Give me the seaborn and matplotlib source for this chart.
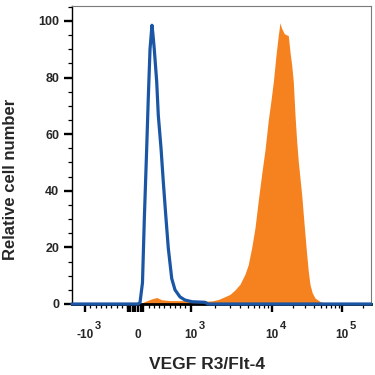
import numpy as np
import seaborn as sns
import matplotlib.pyplot as plt
from matplotlib.ticker import MultipleLocator, FixedLocator

# isotype control histogram (blue outline)
ctrl_x = [-1490, 0, 38, 85, 120, 165, 195, 228, 265, 285, 309, 355, 385, 437, 480,
          526, 575, 640, 702, 797, 892, 1040, 1500, 1630, 263000]
ctrl_y = [0, 0, 0.5, 7.5, 30, 55, 72.6, 90, 98.5, 95, 90, 78.5, 66.7, 55, 43.2,
          31.5, 19.7, 9, 5, 2.5, 1.4, 0.8, 0.6, 0, 0]

# VEGF R3/Flt-4 stained cells (filled orange)
stain_x = [38, 133, 260, 355, 450, 607, 892, 1130, 1500, 1830, 2185, 2640, 3040, 3510,
           4040, 4660, 5110, 5630, 6180, 6790, 7470, 8200, 9000, 9720, 10440, 11410,
           12310, 13020, 13690, 15010, 17130, 18130, 19170, 20210, 21380, 22620, 23840,
           25210, 26680, 28130, 29750, 31470, 33170, 35100, 37860, 41400, 48840, 57600, 63600]
stain_y = [0, 0.9, 1.8, 2.3, 1.5, 1.2, 1.2, 1.1, 1.0, 1.1, 1.6, 2.6, 3.4, 5.0,
           7.0, 10.6, 14, 20, 27, 36.8, 46, 54.5, 65, 72, 78.5, 88,
           95, 99.4, 97.5, 95.5, 94.8, 89, 84.4, 78.5, 66.7, 57.3, 50.3,
           44.4, 38.5, 31.5, 24.4, 17.4, 11.5, 6.8, 3.9, 2.1, 0.9, 0.3, 0]

tick_pos = [-1000, 0, 1000, 10000, 100000]
tick_base = ['-10', '0', '10', '10', '10']
tick_exp = ['3', '', '3', '4', '5']

BLUE = '#1B56A5'
ORANGE = '#F5821F'

# biexponential-like display scale (linear near zero, log above 10^3)
hs = [-20, -1, 0, 1, 2, 3, 20]
ps = [85 - 19 * 75, 85, 138, 190.7, 272, 341.7, 341.7 + 17 * 69.7]


def fwd(x):
    x = np.asarray(x, dtype=float)
    a = np.abs(x)
    h = np.where(a <= 1000, x / 1000,
                 np.sign(x) * (1 + np.log10(np.maximum(a, 1000) / 1000)))
    return np.interp(h, hs, ps)


def inv(p):
    h = np.interp(np.asarray(p, dtype=float), ps, hs)
    return np.where(np.abs(h) <= 1, h * 1000,
                    np.sign(h) * 1000 * 10 ** (np.abs(h) - 1))


sns.set_style('ticks')
plt.rcParams['font.family'] = ['Liberation Sans', 'DejaVu Sans']
plt.rcParams['font.weight'] = 'bold'

fig = plt.figure(figsize=(3.75, 3.75), dpi=100)
ax = fig.add_axes([72 / 375, 71 / 375, 299 / 375, 298 / 375])
ax.set_xscale('function', functions=(fwd, inv))

ax.fill_between(stain_x, stain_y, 0, color=ORANGE, lw=0, zorder=2)
sns.lineplot(x=ctrl_x, y=ctrl_y, color=BLUE, lw=2.3, ax=ax, zorder=4, clip_on=False)

ax.set_xlim(-1490, 263000)
ax.set_ylim(0, 105.3)

# x ticks: labelled decades plus a dense cluster around zero
blob = [-190, -150, -100, -50, 50, 100]
ax.set_xticks(tick_pos + blob, labels=tick_base + [''] * len(blob))
minor = [-900, -800, -700, -600, -500, -400, -300, -200,
         200, 300, 400, 500, 600, 700, 800, 900]
minor += [m * 10 ** k for k in (3, 4) for m in range(2, 10)] + [200000]
ax.xaxis.set_minor_locator(FixedLocator(minor))
for xp, e in zip(tick_pos, tick_exp):
    if e:
        off = 7.4 if xp < 0 else 5.8
        ax.annotate(e, xy=(xp, 0), xycoords=('data', 'axes fraction'),
                    xytext=(off, -15.5), textcoords='offset points',
                    ha='left', va='center', fontsize=8, fontweight='bold')

ax.yaxis.set_major_locator(MultipleLocator(20))
ax.yaxis.set_minor_locator(MultipleLocator(5))

ax.tick_params(axis='both', which='major', direction='out', length=5.8, width=1.7,
               color='black')
ax.tick_params(axis='both', which='minor', direction='out', length=2.8, width=0.9,
               color='black')
ax.tick_params(axis='x', which='major', labelsize=8.5, pad=12.5)
ax.tick_params(axis='y', which='major', labelsize=9, pad=3.5)

for s in ['top', 'right']:
    ax.spines[s].set_color('#7a7a7a')
    ax.spines[s].set_linewidth(0.8)
ax.spines['left'].set_color('black')
ax.spines['left'].set_linewidth(1.0)
ax.spines['bottom'].set_color('black')
ax.spines['bottom'].set_linewidth(2.0)

ax.set_xlabel('VEGF R3/Flt-4', fontsize=12.5, fontweight='bold', va='center')
ax.xaxis.set_label_coords(0.453, -0.203)
ax.set_ylabel('Relative cell number', fontsize=12, fontweight='bold', va='center')
ax.yaxis.set_label_coords(-0.206, 0.419)

fig.savefig('out.png', dpi=100)
